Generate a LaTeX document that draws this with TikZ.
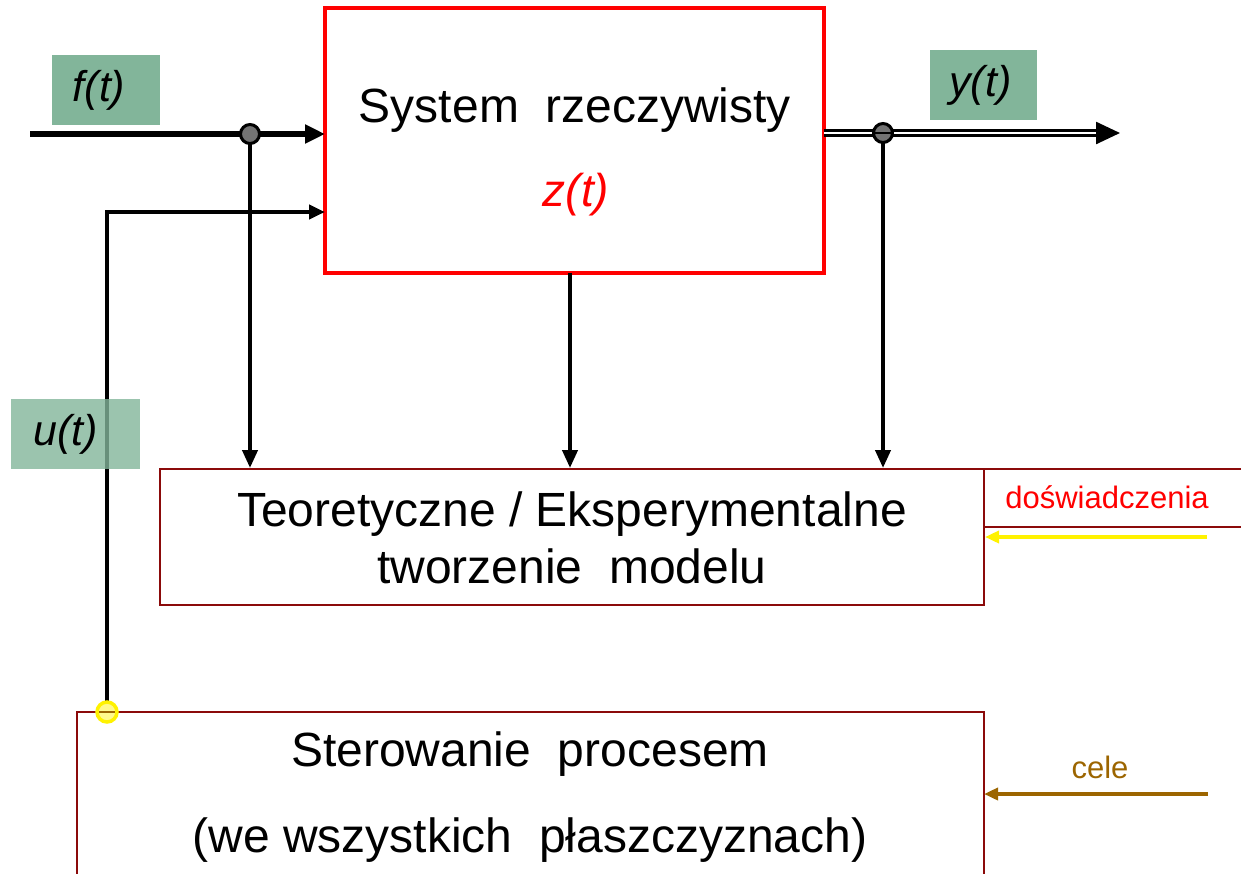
\documentclass[tikz,border=0pt]{standalone}
\usepackage{fontspec}
\setmainfont{Liberation Sans}
\usetikzlibrary{arrows.meta}
\definecolor{sig}{HTML}{82B59A}
\definecolor{frame}{HTML}{8B0A0A}
\definecolor{goal}{HTML}{9C6500}
\begin{document}
\begin{tikzpicture}[x=1pt,y=-1pt,
  big/.style={font=\fontsize{48}{57}\selectfont},
  small/.style={font=\fontsize{31}{36}\selectfont},
  lbl/.style={fill=sig,inner sep=0pt,font=\fontsize{43}{50}\selectfont\itshape},
  wire/.style={line width=5.5pt,-{Triangle[length=20pt,width=18pt]}},
  feed/.style={line width=4pt,-{Triangle[length=18pt,width=15pt]}},
  junc/.style={circle,draw=black,line width=3pt,fill=black!55,minimum size=19pt,inner sep=0pt},
  blockframe/.style={draw=frame,line width=2pt}]
\useasboundingbox (0,0) rectangle (1241,873);

% main system block
\node[draw=red,line width=3.5pt,minimum width=499pt,minimum height=265pt,inner sep=0pt] (sys) at (574.5,140.5) {};
\node[big] (sysname) at (575,110) {System\ \ rzeczywisty};
\node[text=red,font=\fontsize{46}{54}\selectfont\itshape] (state) at (576,195) {z(t)};

% model building block
\node[blockframe,minimum width=824pt,minimum height=136pt,inner sep=0pt] (model) at (572,537) {};
\node[big,align=center] (modeltext) at (572,538) {Teoretyczne / Eksperymentalne\\tworzenie\ \ modelu};

% process control block (runs off the bottom edge)
\draw[frame,line width=2pt] (77,890) |- (984,712) -- (984,890);
\coordinate (ctlright) at (984,794);
\node[big] (ctl1) at (530,754) {Sterowanie\ \ procesem};
\node[big] (ctl2) at (530,840) {(we wszystkich\ \ płaszczyznach)};

% disturbance input f(t)
\coordinate (fin) at (30,134);
\coordinate (sysf) at (325,134);
\node[lbl,minimum width=108pt,minimum height=70pt] (flab) at (106,90) {\hspace*{-14pt}f(t)};
\draw[wire] (fin) -- (sysf);
\coordinate (fj) at (250,134);
\draw[feed] (fj) -- (fj |- model.north);
\node[junc] (fjn) at (fj) {};

% control input u(t)
\coordinate (ustart) at (107,712);
\coordinate (sysu) at (325,212);
\draw[line width=4pt,-{Triangle[length=16pt,width=14pt]}] (ustart) |- (sysu);
\node[lbl,minimum width=129pt,minimum height=70pt,fill opacity=0.8,text opacity=1] (ulab) at (75.5,434) {\hspace*{-20pt}u(t)};
\node[circle,draw=yellow,line width=3.5pt,fill=yellow!45,minimum size=20pt,inner sep=0pt] (uj) at (ustart) {};
\draw[goal,line width=2pt] (99,712) -- (115,712);

% state feed to model
\coordinate (zout) at (570,273);
\draw[feed] (zout) -- (zout |- model.north);

% output y(t)
\coordinate (yout) at (824,133);
\coordinate (yend) at (1120,133);
\node[lbl,minimum width=107pt,minimum height=70pt] (ylab) at (983.5,85) {\hspace*{-6pt}y(t)};
\draw[double=white,double distance=2.5pt,line width=2.5pt,-{Triangle[length=24pt,width=22pt]}] (yout) -- (yend);
\coordinate (yj) at (883,133);
\draw[feed] (yj) -- (yj |- model.north);
\node[junc] (yjn) at (yj) {};
\draw[black,line width=2pt] (875,133) -- (891,133);

% experiment input to the model
\draw[frame,line width=2pt] (984,469) -- (1241,469);
\draw[frame,line width=2pt] (984,527) -- (1241,527);
\node[small,text=red] (exp) at (1107,497) {doświadczenia};
\coordinate (expin) at (1207,537);
\draw[yellow,line width=4pt,-{Triangle[length=14pt,width=12pt]}] (expin) -- (expin -| model.east);

% goals input to control
\node[small,text=goal] (goals) at (1100,767) {cele};
\coordinate (goalin) at (1208,794);
\draw[goal,line width=4pt,-{Triangle[length=14pt,width=12pt]}] (goalin) -- (ctlright);
\end{tikzpicture}
\end{document}
